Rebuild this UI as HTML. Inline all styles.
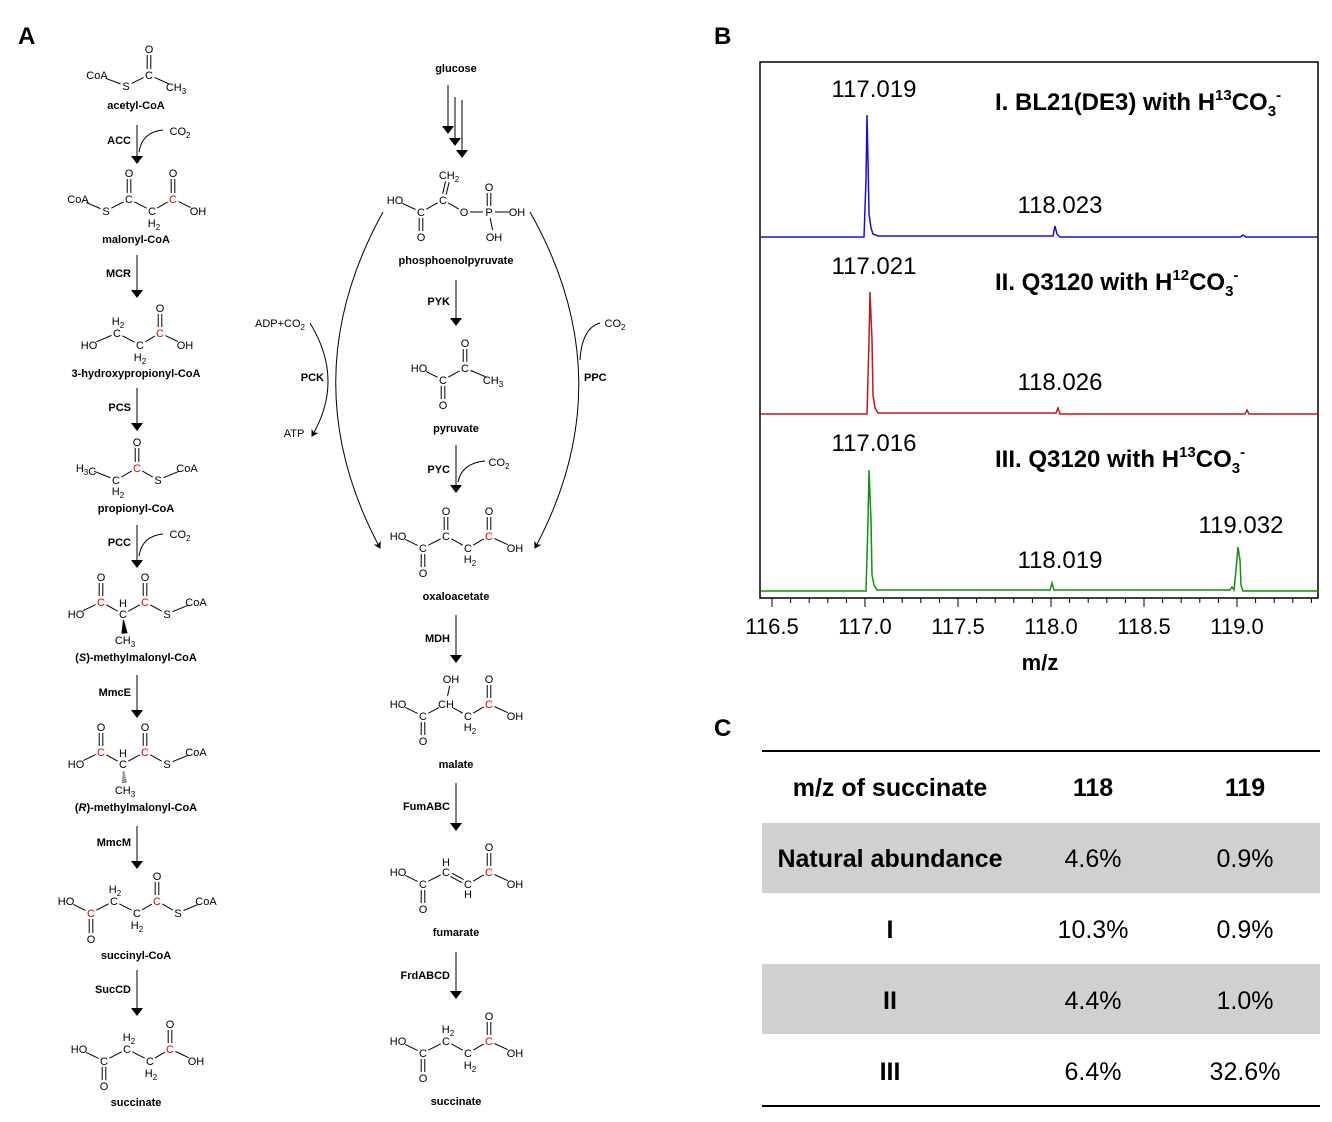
<!DOCTYPE html>
<html><head><meta charset="utf-8"><style>
body{margin:0;background:#fff;}
svg{display:block;font-family:"Liberation Sans",Arial,sans-serif;}
.a{font-size:11px;}
.n{font-size:11px;font-weight:bold;}
</style></head><body>
<svg id="s" width="1332" height="1122" viewBox="0 0 1332 1122" xmlns="http://www.w3.org/2000/svg">
<defs>
<marker id="ah" markerWidth="8" markerHeight="12" refX="7" refY="6" orient="auto" markerUnits="userSpaceOnUse"><path d="M0,0 L8,6 L0,12 Z" fill="#000"/></marker>
<marker id="as" markerWidth="7" markerHeight="8" refX="6" refY="4" orient="auto" markerUnits="userSpaceOnUse"><path d="M0,0 L7,4 L0,8 L2,4 Z" fill="#000"/></marker>
</defs>
<text x="18" y="44" font-size="24" font-weight="bold">A</text>
<text x="714" y="44" font-size="24" font-weight="bold">B</text>
<text x="714" y="736" font-size="24" font-weight="bold">C</text>
<g id="mols" stroke="#000" stroke-width="1" fill="none"></g>
<g id="txt"></g>

<g fill="none" stroke="#000" stroke-width="1">
<path d="M163,130 Q142,132 139,152"/>
<path d="M163,534 Q142,536 139,556"/>
<path d="M485,461 Q462,463 458,482"/>
<path d="M383,212 Q290,380 380,548" marker-end="url(#as)"/>
<path d="M530,212 Q625,380 535,548" marker-end="url(#as)"/>
<path d="M310,323 Q345,380 312,436" marker-end="url(#as)"/>
<path d="M600,323 Q582,328 580,360"/>
</g>

<rect x="760" y="62" width="558" height="536" fill="none" stroke="#000" stroke-width="1.5"/>
<g font-size="24">
<text x="874" y="97" text-anchor="middle">117.019</text>
<text x="1060" y="213" text-anchor="middle">118.023</text>
<text x="874" y="274" text-anchor="middle">117.021</text>
<text x="1060" y="390" text-anchor="middle">118.026</text>
<text x="874" y="451" text-anchor="middle">117.016</text>
<text x="1060" y="568" text-anchor="middle">118.019</text>
<text x="1241" y="533" text-anchor="middle">119.032</text>
</g>
<g font-size="24" font-weight="bold">
<text x="995" y="110">I. BL21(DE3) with H<tspan font-size="15" dy="-10">13</tspan><tspan dy="10">CO</tspan><tspan font-size="15" dy="6">3</tspan><tspan font-size="15" dy="-16">-</tspan></text>
<text x="995" y="290">II. Q3120 with H<tspan font-size="15" dy="-10">12</tspan><tspan dy="10">CO</tspan><tspan font-size="15" dy="6">3</tspan><tspan font-size="15" dy="-16">-</tspan></text>
<text x="995" y="467">III. Q3120 with H<tspan font-size="15" dy="-10">13</tspan><tspan dy="10">CO</tspan><tspan font-size="15" dy="6">3</tspan><tspan font-size="15" dy="-16">-</tspan></text>
</g>
<g fill="none" stroke-width="1.5">
<polyline stroke="#1010e0" points="761,237 864,237 866,180 867,115 868,160 869,214 871,228 873,234 878,236 1053,236 1055,226 1057,234 1060,237 1240,237 1243,235 1246,237 1318,237"/>
<polyline stroke="#c01818" points="761,414 867,414 869,340 870,292 872,340 873,395 875,408 878,413 1056,413 1058,408 1060,414 1245,414 1247,410 1249,414 1318,414"/>
<polyline stroke="#119011" points="761,591 866,591 868,520 869,470 871,520 872,575 874,585 877,590 1050,590 1052,583 1054,590 1230,590 1232,587 1234,590 1236,570 1238,547 1240,560 1241,585 1243,591 1318,591"/>
</g>
<g stroke="#000" stroke-width="1" id="ticks"></g>
<g font-size="22" text-anchor="middle">
<text x="772" y="634">116.5</text><text x="865" y="634">117.0</text><text x="958" y="634">117.5</text><text x="1051" y="634">118.0</text><text x="1144" y="634">118.5</text><text x="1237" y="634">119.0</text>
<text x="1040" y="670" font-weight="bold">m/z</text>
</g>

<rect x="762" y="823" width="558" height="70" fill="#d0d0d0"/>
<rect x="762" y="964" width="558" height="70" fill="#d0d0d0"/>
<line x1="762" y1="751" x2="1320" y2="751" stroke="#000" stroke-width="2"/>
<line x1="762" y1="1106" x2="1320" y2="1106" stroke="#000" stroke-width="2"/>
<g font-size="25" text-anchor="middle">
<text x="890" y="796" font-weight="bold">m/z of succinate</text><text x="1093" y="796" font-weight="bold">118</text><text x="1245" y="796" font-weight="bold">119</text>
<text x="890" y="867" font-weight="bold">Natural abundance</text><text x="1093" y="867">4.6%</text><text x="1245" y="867">0.9%</text>
<text x="890" y="938" font-weight="bold">I</text><text x="1093" y="938">10.3%</text><text x="1245" y="938">0.9%</text>
<text x="890" y="1009" font-weight="bold">II</text><text x="1093" y="1009">4.4%</text><text x="1245" y="1009">1.0%</text>
<text x="890" y="1080" font-weight="bold">III</text><text x="1093" y="1080">6.4%</text><text x="1245" y="1080">32.6%</text>
</g>
</svg>
<script>
var NS="http://www.w3.org/2000/svg";
var G=document.getElementById("mols"),T=document.getElementById("txt");
function el(p,tag,at,html){var e=document.createElementNS(NS,tag);for(var k in at)e.setAttribute(k,at[k]);if(html!=null)e.innerHTML=html;p.appendChild(e);return e;}
function lab(x,y,s,red,cls){s=s.replace(/(\d)/g,'<tspan font-size="8" dy="3">$1</tspan><tspan dy="-3"></tspan>');
 el(T,"text",{x:x,y:y+4,"text-anchor":"middle","class":cls||"a",fill:red?"#e00000":"#000"},s);}
function mol(A,B){A.forEach(function(a){if(a[2])lab(a[0],a[1],a[2],a[3]);});
 B.forEach(function(b){var p=A[b[0]],q=A[b[1]],dx=q[0]-p[0],dy=q[1]-p[1],L=Math.hypot(dx,dy),ux=dx/L,uy=dy/L;
  var r1=p[4]!=null?p[4]:(p[2]?6:0),r2=q[4]!=null?q[4]:(q[2]?6:0);
  var x1=p[0]+ux*r1,y1=p[1]+uy*r1,x2=q[0]-ux*r2,y2=q[1]-uy*r2,t=b[2]||1;
  if(t==1)el(G,"line",{x1:x1,y1:y1,x2:x2,y2:y2});
  else if(t==2){var ox=-uy*1.8,oy=ux*1.8;el(G,"line",{x1:x1+ox,y1:y1+oy,x2:x2+ox,y2:y2+oy});el(G,"line",{x1:x1-ox,y1:y1-oy,x2:x2-ox,y2:y2-oy});}
  else if(t=='w'){var nx=-uy*2.5,ny=ux*2.5;el(G,"path",{d:"M"+x1+","+y1+" L"+(x2+nx)+","+(y2+ny)+" L"+(x2-nx)+","+(y2-ny)+"Z",fill:"#000"});}
  else if(t=='h'){for(var i=1;i<=6;i++){var f=i/6.5,cx=x1+(x2-x1)*f,cy=y1+(y2-y1)*f,w=0.5+2.2*f;el(G,"line",{x1:cx-uy*w,y1:cy+ux*w,x2:cx+uy*w,y2:cy-ux*w,"stroke-width":0.8});}}
 });}
function arr(x,y1,y2){el(G,"line",{x1:x,y1:y1,x2:x,y2:y2,"marker-end":"url(#ah)"});}
function name(x,y,s){el(T,"text",{x:x,y:y,"text-anchor":"middle","class":"n"},s);}
function elab(x,y,s,anc){el(T,"text",{x:x,y:y,"text-anchor":anc||"end","class":"n"},s);}
mol([[97,75,"CoA",0,9],[126,86,"S"],[149,75,"C"],[149,49,"O"],[176,87,"CH3",0,8]],[[0,1],[1,2],[2,3,2],[2,4]]);
name(136,109,"acetyl-CoA");arr(137,125,163);elab(131,144,"ACC");lab(180,131,"CO2");
mol([[78,199,"CoA",0,9],[106,211,"S"],[129,199,"C"],[129,173,"O"],[152,211,"C"],[173,199,"C",1],[173,173,"O"],[198,211,"OH",0,8],[154,223,"H2"]],[[0,1],[1,2],[2,3,2],[2,4],[4,5],[5,6,2],[5,7]]);
name(136,243,"malonyl-CoA");arr(137,255,297);elab(131,277,"MCR");
mol([[89,345,"HO",0,8],[117,333,"C"],[140,345,"C"],[160,333,"C",1],[160,308,"O"],[185,345,"OH",0,8],[118,321,"H2"],[140,357,"H2"]],[[0,1],[1,2],[2,3],[3,4,2],[3,5]]);
name(136,377,"3-hydroxypropionyl-CoA");arr(137,388,430);elab(131,411,"PCS");
mol([[86,468,"H3C",0,9],[116,480,"C"],[137,468,"C",1],[137,442,"O"],[158,480,"S"],[187,468,"CoA",0,9],[118,491,"H2"]],[[0,1],[1,2],[2,3,2],[2,4],[4,5]]);
name(136,512,"propionyl-CoA");arr(137,525,567);elab(131,546,"PCC");lab(180,534,"CO2");
function mm(dy,t){mol([[76,614+dy,"HO",0,8],[101,602+dy,"C",1],[101,577+dy,"O"],[123,614+dy,"C"],[145,602+dy,"C",1],[145,577+dy,"O"],[167,614+dy,"S"],[196,602+dy,"CoA",0,9],[125,640+dy,"CH3",0,7],[123,603+dy,"H",0,0]],[[0,1],[1,2,2],[1,3],[3,4],[4,5,2],[4,6],[6,7],[3,8,t]]);}
mm(0,'w');el(T,"text",{x:136,y:661,"text-anchor":"middle","class":"n"},"(<tspan font-style='italic'>S</tspan>)-methylmalonyl-CoA");
arr(137,675,717);elab(131,696,"MmcE");
mm(150,'h');el(T,"text",{x:136,y:811,"text-anchor":"middle","class":"n"},"(<tspan font-style='italic'>R</tspan>)-methylmalonyl-CoA");
arr(137,826,868);elab(131,846,"MmcM");
mol([[66,901,"HO",0,8],[91,913,"C",1],[91,939,"O"],[114,901,"C"],[137,913,"C"],[157,901,"C",1],[157,876,"O"],[178,913,"S"],[206,901,"CoA",0,9],[115,889,"H2"],[137,925,"H2"]],[[0,1],[1,2,2],[1,3],[3,4],[4,5],[5,6,2],[5,7],[7,8]]);
name(136,959,"succinyl-CoA");arr(137,970,1015);elab(131,993,"SucCD");
function succ(x0,y0,cH){mol([[x0,y0,"HO",0,8],[x0+25,y0+12,"C"],[x0+25,y0+37,"O"],[x0+48,y0,"C"],[x0+71,y0+12,"C"],[x0+91,y0,"C",1],[x0+91,y0-25,"O"],[x0+117,y0+12,"OH",0,8],[x0+50,y0-12,"H2"],[x0+72,y0+24,"H2"]],[[0,1],[1,2,2],[1,3],[3,4],[4,5],[5,6,2],[5,7]]);}
succ(79,1049);name(136,1106,"succinate");
name(456,72,"glucose");arr(448,85,133);arr(455,97,145);arr(462,100,157);
mol([[395,200,"HO",0,8],[421,212,"C"],[421,237,"O"],[443,200,"C"],[449,175,"CH2",0,7],[464,212,"O"],[489,212,"P"],[489,187,"O"],[517,212,"OH",0,8],[494,237,"OH",0,7]],[[0,1],[1,2,2],[1,3],[3,4,2],[3,5],[5,6],[6,7,2],[6,8],[6,9]]);
name(456,264,"phosphoenolpyruvate");arr(456,280,325);elab(450,305,"PYK");
mol([[419,368,"HO",0,8],[443,380,"C"],[443,405,"O"],[465,368,"C"],[465,343,"O"],[493,380,"CH3",0,8]],[[0,1],[1,2,2],[1,3],[3,4,2],[3,5]]);
name(456,432,"pyruvate");arr(456,445,492);elab(450,473,"PYC");lab(499,462,"CO2");
function c4(y0,kind){var A=[[398,y0,"HO",0,8],[423,y0+12,"C"],[423,y0+37,"O"],[446,y0,kind=="m"?"CH":"C",0,kind=="m"?8:6],[468,y0+12,"C"],[489,y0,"C",1],[489,y0-25,"O"],[515,y0+12,"OH",0,8]];
 var B=[[0,1],[1,2,2],[1,3],[3,4,kind=="f"?2:1],[4,5],[5,6,2],[5,7]];
 if(kind=="o"){A.push([446,y0-25,"O"]);B.push([3,8,2]);A.push([470,y0+23,"H2"]);}
 if(kind=="m"){A.push([451,y0-25,"OH",0,7]);B.push([3,8]);A.push([470,y0+23,"H2"]);}
 if(kind=="f"){A.push([446,y0-10,"H"]);A.push([468,y0+22,"H"]);}
 if(kind=="s"){A.push([448,y0-12,"H2"]);A.push([470,y0+24,"H2"]);}
 mol(A,B);}
c4(536,"o");name(456,600,"oxaloacetate");arr(456,615,662);elab(450,642,"MDH");
c4(704,"m");name(456,768,"malate");arr(456,783,830);elab(450,810,"FumABC");
c4(872,"f");name(456,936,"fumarate");arr(456,952,998);elab(450,979,"FrdABCD");
c4(1041,"s");name(456,1105,"succinate");
el(T,"text",{x:280,y:327,"class":"a","text-anchor":"middle"},'ADP+CO<tspan font-size="8" dy="3">2</tspan>');
el(T,"text",{x:294,y:437,"class":"a","text-anchor":"middle"},"ATP");
elab(324,381,"PCK");elab(584,381,"PPC","start");
lab(615,323,"CO2");
var tk=document.getElementById("ticks");
for(var i=0;i<=30;i++){var x=772+i*18.6;if(x>1318)break;el(tk,"line",{x1:x,y1:598,x2:x,y2:(i%5==0)?607:603});}
</script>
</body></html>
